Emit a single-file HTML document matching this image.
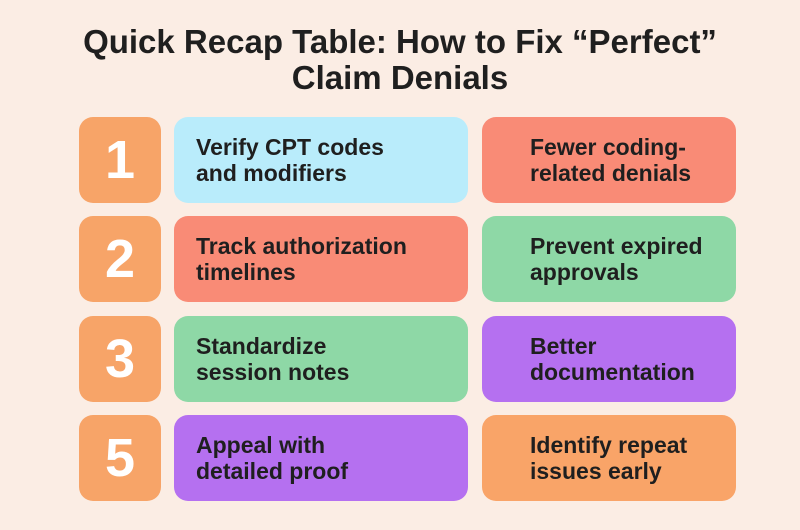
<!DOCTYPE html>
<html><head><style>
body{margin:0;width:800px;height:530px;background:#fbede4;font-family:"Liberation Sans",sans-serif;position:relative;overflow:hidden}
h1{position:absolute;left:0;top:24px;width:800px;margin:0;text-align:center;font-size:33px;line-height:36px;font-weight:bold;color:#1f1f1f;letter-spacing:0px}
.b{position:absolute;border-radius:14px;height:86px;box-sizing:border-box}
.n{left:79px;width:82px;background:#f7a468;color:#fff;font-size:54px;font-weight:bold;display:flex;align-items:center;justify-content:center}
.t{width:294px;padding:17px 0 0 22px;font-size:23px;font-weight:bold;line-height:26px;color:#1f1f1f}
.m{left:174px}.r{left:482px;width:254px;padding-left:48px}
</style></head><body>
<h1>Quick Recap Table: How to Fix “Perfect”<br>Claim Denials</h1>
<div class="b n" style="top:117px">1</div>
<div class="b t m" style="top:117px;background:#b9ecfb">Verify CPT codes<br>and modifiers</div>
<div class="b t r" style="top:117px;background:#f98b76">Fewer coding-<br>related denials</div>
<div class="b n" style="top:216px">2</div>
<div class="b t m" style="top:216px;background:#f98b76">Track authorization<br>timelines</div>
<div class="b t r" style="top:216px;background:#8ed8a6">Prevent expired<br>approvals</div>
<div class="b n" style="top:316px">3</div>
<div class="b t m" style="top:316px;background:#8ed8a6">Standardize<br>session notes</div>
<div class="b t r" style="top:316px;background:#b570f0">Better<br>documentation</div>
<div class="b n" style="top:415px">5</div>
<div class="b t m" style="top:415px;background:#b570f0">Appeal with<br>detailed proof</div>
<div class="b t r" style="top:415px;background:#f9a468">Identify repeat<br>issues early</div>
</body></html>
